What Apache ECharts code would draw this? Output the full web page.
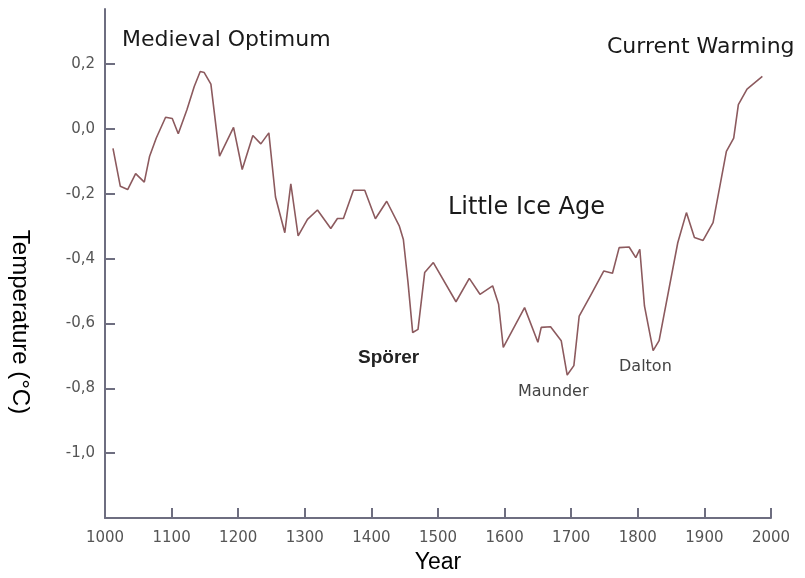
<!DOCTYPE html>
<html>
<head>
<meta charset="utf-8">
<script src="https://cdn.jsdelivr.net/npm/echarts@6/dist/echarts.min.js"></script>
<style>
html,body{margin:0;padding:0;background:#fff;}
#c{width:805px;height:578px;}
</style>
</head>
<body>
<div id="c"></div>
<script>
const years = [1012,1023,1034,1046,1059,1067,1077,1091,1101,1110,1123,1134,1143,1149,1159,1172,1193,1206,1222,1234,1246,1256,1270,1279,1290,1304,1319,1339,1349,1358,1373,1390,1406,1423,1442,1448,1455,1462,1470,1480,1493,1527,1547,1563,1582,1591,1598,1630,1650,1655,1669,1685,1694,1704,1712,1730,1749,1762,1772,1787,1797,1803,1810,1823,1832,1860,1873,1885,1898,1913,1933,1944,1951,1964,1987];
const temps = [-0.06,-0.177,-0.187,-0.138,-0.164,-0.084,-0.028,0.036,0.032,-0.015,0.059,0.131,0.177,0.174,0.138,-0.084,0.005,-0.125,-0.020,-0.046,-0.012,-0.21,-0.32,-0.169,-0.330,-0.279,-0.250,-0.307,-0.276,-0.276,-0.189,-0.189,-0.277,-0.223,-0.300,-0.341,-0.474,-0.628,-0.618,-0.443,-0.412,-0.533,-0.461,-0.510,-0.484,-0.541,-0.674,-0.551,-0.658,-0.612,-0.610,-0.653,-0.759,-0.730,-0.577,-0.51,-0.438,-0.445,-0.366,-0.364,-0.397,-0.371,-0.546,-0.684,-0.653,-0.351,-0.258,-0.335,-0.344,-0.289,-0.069,-0.028,0.075,0.123,0.162];
const xTicks = [1000,1100,1200,1300,1400,1500,1600,1700,1800,1900,2000];
const yTicks = [-1.0,-0.8,-0.6,-0.4,-0.2,0.0,0.2];
const annotations = ["Medieval Optimum","Current Warming","Little Ice Age","Spörer","Maunder","Dalton"];

const chart = echarts.init(document.getElementById('c'), null, {renderer:'canvas'});
const axisColor = '#6e6e80';
const labelColor = '#555';
const fmtY = v => v.toFixed(1).replace('.', ',');

chart.setOption({
  animation:false,
  backgroundColor:'#fff',
  grid:{left:105, right:34, top:9, bottom:60, containLabel:false, outerBoundsMode:'none'},
  xAxis:{
    type:'value', min:1000, max:2000, interval:100,
    name:'Year', nameLocation:'middle', nameGap:33,
    nameTextStyle:{fontFamily:'Liberation Sans', fontSize:23, color:'#000'},
    axisLine:{show:true, onZero:false, lineStyle:{color:axisColor, width:2}},
    axisTick:{show:true, inside:true, length:10, lineStyle:{color:axisColor, width:2}, customValues:xTicks.slice(1)},
    axisLabel:{color:labelColor, fontFamily:'DejaVu Sans', fontSize:15, margin:13, customValues:xTicks, formatter:v=>String(v)},
    splitLine:{show:false}
  },
  yAxis:{
    type:'value', min:-1.2, max:0.37,
    axisLine:{show:true, onZero:false, lineStyle:{color:axisColor, width:2}},
    axisTick:{show:true, inside:true, length:10, lineStyle:{color:axisColor, width:2}, customValues:yTicks},
    axisLabel:{color:labelColor, fontFamily:'DejaVu Sans', fontSize:15, margin:10, customValues:yTicks, formatter:fmtY},
    splitLine:{show:false}
  },
  series:[{
    type:'line',
    data: years.map((y,i)=>[y,temps[i]]),
    showSymbol:false,
    lineStyle:{color:'#8c5a5e', width:1.6},
    smooth:false
  }],
  graphic:[
    {type:'text', x:20, y:322, rotation:-Math.PI/2,
     style:{text:'Temperature (°C)', font:'24px "Liberation Sans"', fill:'#000', textAlign:'center', textVerticalAlign:'middle'}},
    {type:'text', x:122, y:40, style:{text:annotations[0], font:'22px "DejaVu Sans"', fill:'#1a1a1a', textVerticalAlign:'middle'}},
    {type:'text', x:607, y:47, style:{text:annotations[1], font:'22px "DejaVu Sans"', fill:'#1a1a1a', textVerticalAlign:'middle'}},
    {type:'text', x:448, y:208, style:{text:annotations[2], font:'24px "DejaVu Sans"', fill:'#1a1a1a', textVerticalAlign:'middle'}},
    {type:'text', x:358, y:358, style:{text:annotations[3], font:'bold 19px "Liberation Sans"', fill:'#222', textVerticalAlign:'middle'}},
    {type:'text', x:518, y:392, style:{text:annotations[4], font:'16px "DejaVu Sans"', fill:'#444', textVerticalAlign:'middle'}},
    {type:'text', x:619, y:367, style:{text:annotations[5], font:'16px "DejaVu Sans"', fill:'#444', textVerticalAlign:'middle'}}
  ]
});
</script>
</body>
</html>
